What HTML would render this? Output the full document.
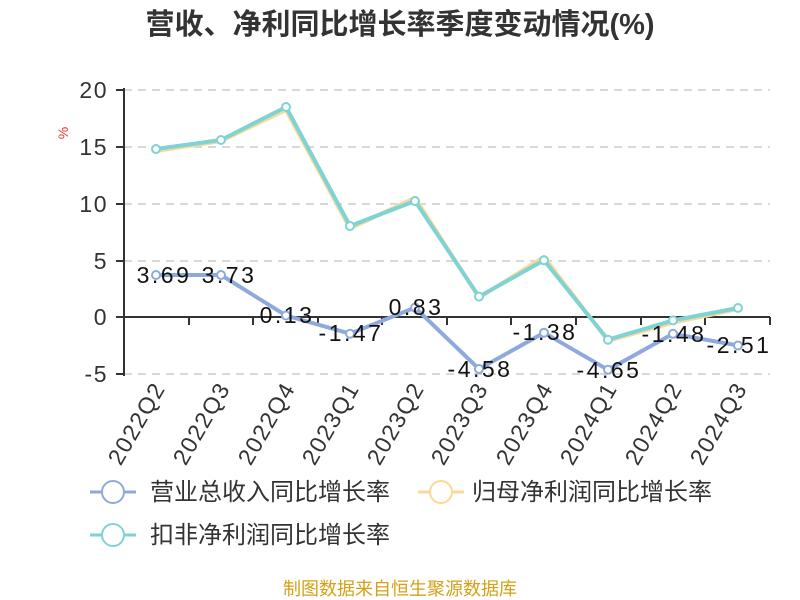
<!DOCTYPE html>
<html><head><meta charset="utf-8"><style>body{margin:0;background:#fff}svg{display:block}</style></head><body>
<svg width="800" height="600" xmlns="http://www.w3.org/2000/svg" font-family="'Liberation Sans','Noto Sans CJK SC',sans-serif">
<text x="400" y="34" text-anchor="middle" font-size="29" font-weight="bold" fill="#333">营收、净利同比增长率季度变动情况(%)</text>
<text x="68" y="133" font-size="14" fill="#e33" transform="rotate(-90 68 133)" text-anchor="middle">%</text>
<g stroke="#ccc" stroke-dasharray="8,6" stroke-width="1.5">
<line x1="124" y1="90" x2="770" y2="90"/><line x1="124" y1="147" x2="770" y2="147"/><line x1="124" y1="204" x2="770" y2="204"/><line x1="124" y1="261" x2="770" y2="261"/><line x1="124" y1="374" x2="770" y2="374"/>
</g>
<g stroke="#333" stroke-width="2">
<line x1="124" y1="88" x2="124" y2="376"/><line x1="124" y1="317" x2="770" y2="317"/>
<line x1="116" y1="90" x2="124" y2="90"/><line x1="116" y1="147" x2="124" y2="147"/><line x1="116" y1="204" x2="124" y2="204"/><line x1="116" y1="261" x2="124" y2="261"/><line x1="116" y1="317" x2="124" y2="317"/><line x1="116" y1="374" x2="124" y2="374"/>
<line x1="189" y1="317" x2="189" y2="325"/><line x1="253" y1="317" x2="253" y2="325"/><line x1="318" y1="317" x2="318" y2="325"/><line x1="382" y1="317" x2="382" y2="325"/><line x1="447" y1="317" x2="447" y2="325"/><line x1="511" y1="317" x2="511" y2="325"/><line x1="576" y1="317" x2="576" y2="325"/><line x1="641" y1="317" x2="641" y2="325"/><line x1="705" y1="317" x2="705" y2="325"/><line x1="770" y1="317" x2="770" y2="325"/>
</g>
<g font-size="23" fill="#333" text-anchor="end" letter-spacing="1.5">
<text x="108" y="98">20</text><text x="108" y="155">15</text><text x="108" y="212">10</text><text x="108" y="269">5</text><text x="108" y="325">0</text><text x="108" y="382">-5</text>
</g>
<g font-size="23" fill="#333" text-anchor="end" letter-spacing="1.5">
<text transform="translate(166,388) rotate(-60)">2022Q2</text>
<text transform="translate(231,388) rotate(-60)">2022Q3</text>
<text transform="translate(296,388) rotate(-60)">2022Q4</text>
<text transform="translate(360,388) rotate(-60)">2023Q1</text>
<text transform="translate(425,388) rotate(-60)">2023Q2</text>
<text transform="translate(489,388) rotate(-60)">2023Q3</text>
<text transform="translate(554,388) rotate(-60)">2023Q4</text>
<text transform="translate(618,388) rotate(-60)">2024Q1</text>
<text transform="translate(683,388) rotate(-60)">2024Q2</text>
<text transform="translate(748,388) rotate(-60)">2024Q3</text>
</g>
<g fill="none" stroke-width="4" stroke-linejoin="round">
<polyline stroke="#8eaadc" points="156,275 221,275 286,315.5 350,333.7 415,307.6 479,369 544,332.7 608,369.8 673,333.8 738,345.5"/>
<polyline stroke="#fbd89a" points="156,151 221,141 286,110 350,228.5 415,197.8 479,297.7 544,256.8 608,340.8 673,322.7 738,309"/>
<polyline stroke="#7fd3d3" points="156,149 221,140 286,107 350,226 415,201 479,296.6 544,260.3 608,339.7 673,320.4 738,308"/>
</g>
<g fill="#fff" stroke-width="2">
<g stroke="#8eaadc"><circle cx="156" cy="275" r="4"/><circle cx="221" cy="275" r="4"/><circle cx="286" cy="315.5" r="4"/><circle cx="350" cy="333.7" r="4"/><circle cx="415" cy="307.6" r="4"/><circle cx="479" cy="369" r="4"/><circle cx="544" cy="332.7" r="4"/><circle cx="608" cy="369.8" r="4"/><circle cx="673" cy="333.8" r="4"/><circle cx="738" cy="345.5" r="4"/></g>
<g stroke="#7fd3d3"><circle cx="156" cy="149" r="4"/><circle cx="221" cy="140" r="4"/><circle cx="286" cy="107" r="4"/><circle cx="350" cy="226" r="4"/><circle cx="415" cy="201" r="4"/><circle cx="479" cy="296.6" r="4"/><circle cx="544" cy="260.3" r="4"/><circle cx="608" cy="339.7" r="4"/><circle cx="673" cy="320.4" r="4"/><circle cx="738" cy="308" r="4"/></g>
</g>
<g font-size="23" fill="#111" text-anchor="middle" letter-spacing="2.5">
<text x="164" y="283">3.69</text><text x="229" y="283">3.73</text><text x="287" y="323">0.13</text><text x="351" y="341">-1.47</text><text x="416" y="315">0.83</text><text x="480" y="377">-4.58</text><text x="545" y="340">-1.38</text><text x="609" y="378">-4.65</text><text x="674" y="342">-1.48</text><text x="739" y="353">-2.51</text>
</g>
<g font-size="24" fill="#333">
<line x1="90" y1="492" x2="136" y2="492" stroke="#8eaadc" stroke-width="3"/><circle cx="113" cy="492" r="11" fill="#fff" stroke="#8eaadc" stroke-width="2"/>
<text x="150" y="500">营业总收入同比增长率</text>
<line x1="418" y1="492" x2="464" y2="492" stroke="#fbd89a" stroke-width="3"/><circle cx="441" cy="492" r="11" fill="#fff" stroke="#fbd89a" stroke-width="2"/>
<text x="472" y="500">归母净利润同比增长率</text>
<line x1="90" y1="535" x2="136" y2="535" stroke="#7fd3d3" stroke-width="3"/><circle cx="113" cy="535" r="11" fill="#fff" stroke="#7fd3d3" stroke-width="2"/>
<text x="150" y="543">扣非净利润同比增长率</text>
</g>
<text x="400" y="595" text-anchor="middle" font-size="18" fill="#d4a017">制图数据来自恒生聚源数据库</text>
</svg>
</body></html>
